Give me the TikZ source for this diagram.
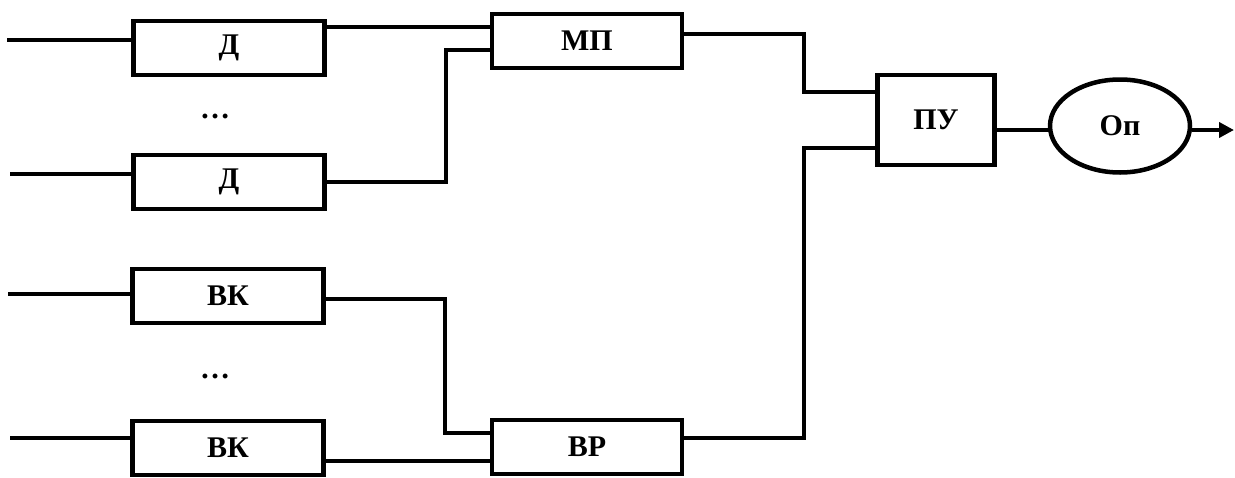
\documentclass[tikz,border=0pt]{standalone}
\usepackage{fontspec}
\setmainfont{Liberation Serif}
\usetikzlibrary{arrows.meta,shapes.geometric}

\begin{document}
\begin{tikzpicture}[x=1pt,y=-1pt,
  wire/.style={line width=4pt,line cap=rect},
  block/.style={draw,line width=4.5pt,rectangle,inner sep=0pt,
    minimum width=191pt,minimum height=54pt,
    font=\fontsize{30}{32}\selectfont\bfseries},
  bigblock/.style={block,minimum width=117pt,minimum height=90pt},
  oval/.style={draw,line width=4.5pt,ellipse,inner sep=0pt,
    minimum width=140pt,minimum height=93pt,
    font=\fontsize{30}{32}\selectfont\bfseries},
  dots/.style={font=\fontsize{30}{32}\selectfont\bfseries}]

\useasboundingbox (0,0) rectangle (1235,477);

% blocks
\node[block] (d1)  at (229,48)  {Д};
\node[block] (d2)  at (229,182) {Д};
\node[block] (vk1) at (228,296) {ВК};
\node[block] (vk2) at (228,448) {ВК};
\node[block,minimum width=190pt] (mp) at (587,41)  {МП};
\node[block,minimum width=190pt] (vr) at (587,447) {ВР};
\node[bigblock] (pu) at (936,120) {ПУ};
\node[oval] (op) at (1120,126) {Оп};

\node[dots] (dt1) at (215,116) {…};
\node[dots] (dt2) at (215,376) {…};

% inputs on the left
\coordinate (in1) at (9,40);
\coordinate (in2) at (12,174);
\coordinate (in3) at (10,294);
\coordinate (in4) at (12,438);
\draw[wire] (in1) -- (in1 -| d1.west);
\draw[wire] (in2) -- (in2 -| d2.west);
\draw[wire] (in3) -- (in3 -| vk1.west);
\draw[wire] (in4) -- (in4 -| vk2.west);

% vertical bus columns
\coordinate (c1) at (446,0);
\coordinate (c2) at (445,0);
\coordinate (c3) at (804,0);

% detectors into МП
\coordinate (d1o) at ([yshift=21pt]d1.east);
\draw[wire] (d1o) -- (d1o -| mp.west);
\coordinate (mpi2) at ([yshift=-9pt]mp.west);
\draw[wire] (d2.east) -- (d2.east -| c1) |- (mpi2);

% ВК into ВР
\coordinate (vk1o) at ([yshift=-3pt]vk1.east);
\coordinate (vri1) at ([yshift=14pt]vr.west);
\draw[wire] (vk1o) -- (vk1o -| c2) |- (vri1);
\coordinate (vk2o) at ([yshift=-13pt]vk2.east);
\draw[wire] (vk2o) -- (vk2o -| vr.west);

% МП and ВР into ПУ
\coordinate (mpo) at ([yshift=7pt]mp.east);
\coordinate (pui1) at ([yshift=28pt]pu.west);
\draw[wire] (mpo) -- (mpo -| c3) |- (pui1);
\coordinate (vro) at ([yshift=9pt]vr.east);
\coordinate (pui2) at ([yshift=-28pt]pu.west);
\draw[wire] (vro) -- (vro -| c3) |- (pui2);

% ПУ to Оп and output
\coordinate (puo) at ([yshift=-10pt]pu.east);
\draw[wire] (puo) -- (puo -| op.west);
\coordinate (out) at (1234,130);
\draw[wire,line cap=butt,-{Triangle[length=15pt,width=15pt]}] (out -| op.east) -- (out);

\end{tikzpicture}
\end{document}
